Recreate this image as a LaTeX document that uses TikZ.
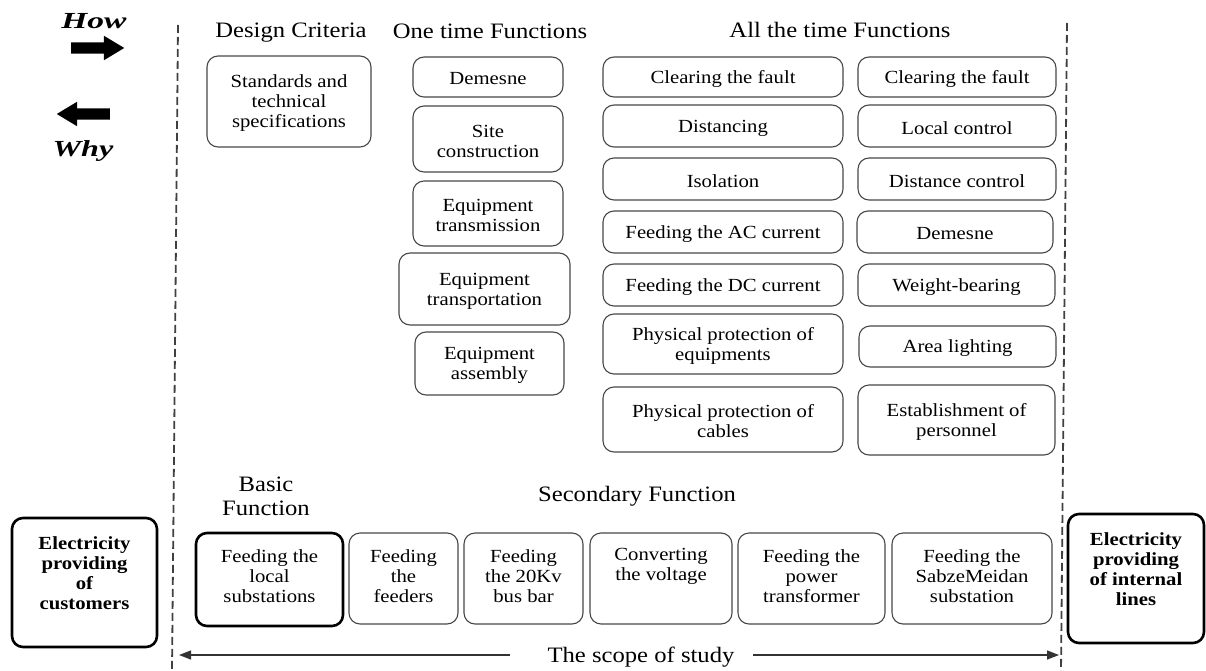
\documentclass[tikz,border=0pt]{standalone}
\usepackage{fontspec}
\setmainfont{Liberation Serif}[FakeStretch=1.12]
\usetikzlibrary{arrows.meta,shapes.arrows}
\tikzset{
  box/.style={draw=black!72, line width=1.1pt, rounded corners=11pt, align=center, inner sep=0pt, font=\fontsize{18.5}{20}\selectfont},
  thickbox/.style={draw=black, line width=2.6pt},
  btxt/.style={align=center, inner sep=0pt, font=\fontsize{18.5}{20}\selectfont},
  head/.style={inner sep=0pt, align=center, font=\fontsize{22}{25}\selectfont},
  dline/.style={draw=black!75, line width=1.8pt, dash pattern=on 8pt off 4pt},
  scopearrow/.style={draw=black!80, line width=1.3pt, -{Triangle[length=12pt,width=9pt]}},
  bigarrow/.style={single arrow, fill=black, draw=none, minimum height=53pt, inner xsep=0pt, inner ysep=5.5pt, single arrow head extend=6.5pt, single arrow tip angle=62},
}
% box from corner (x1,y1) to (x2,y2), text centred (slightly lowered)
\newcommand{\bx}[7][]{%
  \pgfmathsetmacro\myBW{#5-#3}\pgfmathsetmacro\myBH{#6-#4}%
  \node[box,#1,minimum width=\myBW pt,minimum height=\myBH pt] (#2) at ({(#3+#5)/2},{(#4+#6)/2}) {};
  \node[btxt] (#2-t) at ([yshift=-2pt]#2.center) {#7};}
% box with text hanging from a given top
\newcommand{\bxt}[8][]{%
  \pgfmathsetmacro\myBW{#5-#3}\pgfmathsetmacro\myBH{#6-#4}%
  \node[box,#1,minimum width=\myBW pt,minimum height=\myBH pt] (#2) at ({(#3+#5)/2},{(#4+#6)/2}) {};
  \node[btxt,anchor=north] (#2-t) at ({(#3+#5)/2},#7) {#8};}
\begin{document}
\begin{tikzpicture}[x=1pt,y=-1pt]
\useasboundingbox (0,0) rectangle (1206,671);

% How / Why
\node[inner sep=0pt] (how) at (94,21) {\scalebox{1.3}[1]{\fontsize{23}{26}\selectfont\bfseries\itshape How}};
\node[bigarrow] (howarrow) at (93,48) {};
\node[bigarrow, shape border rotate=180] (whyarrow) at (88,114) {};
\node[inner sep=0pt] (why) at (83,151) {\scalebox{1.25}[1]{\fontsize{23}{26}\selectfont\bfseries\itshape Why}};

% scope lines
\coordinate (lt) at (178,25);
\coordinate (lb) at (172,671);
\coordinate (rt) at (1067,23);
\coordinate (rb) at (1061,671);
\draw[dline] (lt) -- (lb);
\draw[dline] (rt) -- (rb);

% headings
\node[head,anchor=base] (hdc) at (291,38) {Design Criteria};
\node[head,anchor=base] (hot) at (490,39) {One time Functions};
\node[head,anchor=base] (hat) at (840,38) {All the time Functions};
\node[head,anchor=base] (hbf1) at (266,491) {Basic};
\node[head,anchor=base] (hbf2) at (266,515) {Function};
\node[head,anchor=base] (hsf) at (637,501) {Secondary Function};

% design criteria
\bx{std}{207}{56}{371}{147}{Standards and\\technical\\specifications}

% one time functions
\bx{o1}{413}{57}{563}{97}{Demesne}
\bx{o2}{413}{106}{563}{172}{Site\\construction}
\bx{o3}{413}{181}{563}{246}{Equipment\\transmission}
\bx{o4}{399}{253}{570}{325}{Equipment\\transportation}
\bx{o5}{415}{332}{564}{395}{Equipment\\assembly}

% all the time functions, column 1
\bx{a1}{603}{57}{843}{97}{Clearing the fault}
\bx{a2}{603}{105}{843}{147}{Distancing}
\bx{a3}{603}{158}{843}{200}{Isolation}
\bx{a4}{603}{211}{843}{253}{Feeding the AC current}
\bx{a5}{603}{264}{843}{306}{Feeding the DC current}
\bx{a6}{603}{314}{843}{374}{Physical protection of\\equipments}
\bx{a7}{603}{387}{843}{452}{Physical protection of\\cables}

% column 2
\bx{b1}{858}{57}{1056}{97}{Clearing the fault}
\bx{b2}{858}{105}{1056}{147}{Local control}
\bx{b3}{858}{158}{1056}{200}{Distance control}
\bx{b4}{857}{211}{1053}{253}{Demesne}
\bx{b5}{858}{264}{1055}{306}{Weight-bearing}
\bx{b6}{859}{326}{1056}{367}{Area lighting}
\bx{b7}{858}{385}{1055}{455}{Establishment of\\personnel}

% bottom row
\bxt[thickbox]{cust}{12}{518}{157}{647}{536}{\bfseries Electricity\\\bfseries providing\\\bfseries of\\\bfseries customers}
\bxt[thickbox]{s0}{196}{533}{343}{626}{549}{Feeding the\\local\\substations}
\bxt{s1}{349}{533}{458}{624}{549}{Feeding\\the\\feeders}
\bxt{s2}{464}{533}{583}{624}{549}{Feeding\\the 20Kv\\bus bar}
\bxt{s3}{590}{533}{732}{624}{548}{Converting\\the voltage}
\bxt{s4}{738}{533}{885}{624}{549}{Feeding the\\power\\transformer}
\bxt{s5}{892}{533}{1052}{624}{549}{Feeding the\\SabzeMeidan\\substation}
\bxt[thickbox]{intl}{1068}{514}{1204}{643}{532}{\bfseries Electricity\\\bfseries providing\\\bfseries of internal\\\bfseries lines}

% scope of study
\node[head,anchor=base] (scope) at (641,662) {The scope of study};
\coordinate (scL) at (510,655);
\coordinate (scLend) at (179,655);
\coordinate (scR) at (753,655);
\coordinate (scRend) at (1059,655);
\draw[scopearrow] (scL) -- (scLend);
\draw[scopearrow] (scR) -- (scRend);
\end{tikzpicture}
\end{document}
